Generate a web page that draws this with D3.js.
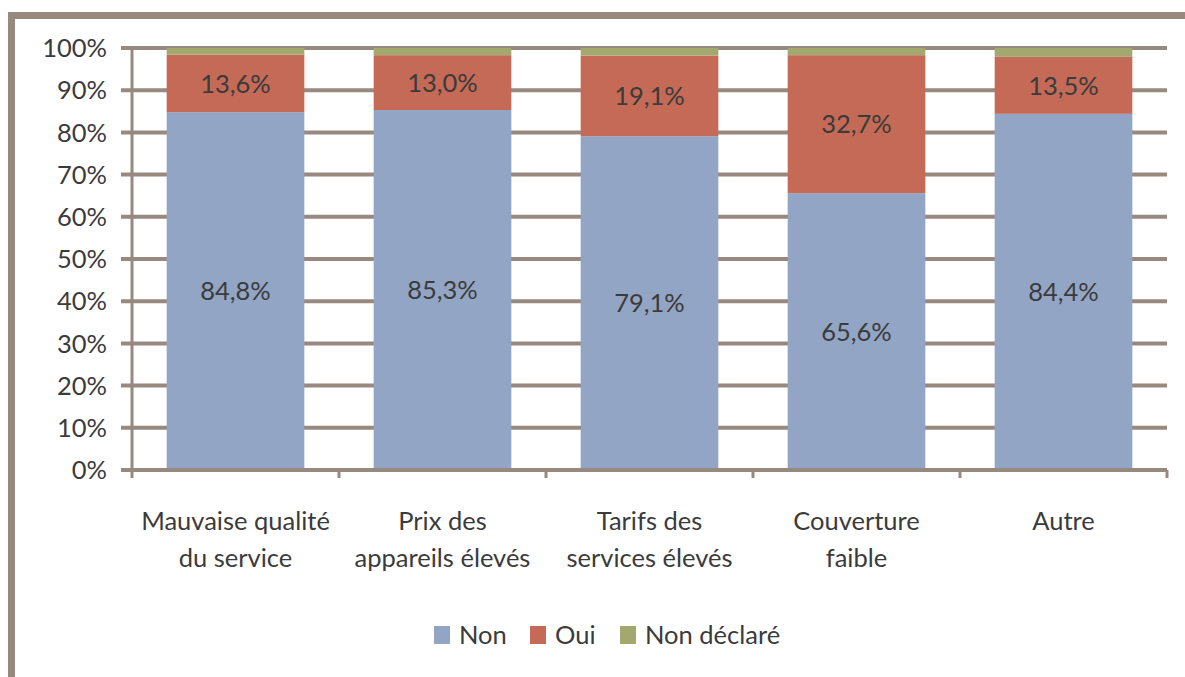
<!DOCTYPE html>
<html><head><meta charset="utf-8">
<script src="https://cdn.jsdelivr.net/npm/d3@7"></script>
<style>body{margin:0;background:#fff}svg{display:block}text{font-family:Lato,"Open Sans",sans-serif;fill:#3b3b3b}</style>
</head><body>
<script>
const categories = [["Mauvaise qualité","du service"],["Prix des","appareils élevés"],["Tarifs des","services élevés"],["Couverture","faible"],["Autre"]];
const seriesNames = ["Non","Oui","Non déclaré"];
const nonValues = [84.8, 85.3, 79.1, 65.6, 84.4];
const ouiValues = [13.6, 13.0, 19.1, 32.7, 13.5];
const ndValues  = [1.6, 1.7, 1.8, 1.7, 2.1];
const yTicks = [0,10,20,30,40,50,60,70,80,90,100];
const colors = ["#93a5c4","#c46a56","#a3a86f"];

const W=1185,H=677;
const svg=d3.select("body").append("svg").attr("width",W).attr("height",H);
const frame="#978880";
// outer frame
svg.append("rect").attr("x",8).attr("y",12).attr("width",W-8).attr("height",7).attr("fill",frame);
svg.append("rect").attr("x",8).attr("y",12).attr("width",7).attr("height",H-12).attr("fill",frame);

const x0=132,x1=1167,yB=470,yT=48;
const x=d3.scaleBand().domain(d3.range(categories.length)).range([x0,x1]).paddingInner(0.335).paddingOuter(0.1675);
const y=d3.scaleLinear().domain([0,100]).range([yB,yT]);

// gridlines
svg.append("g").selectAll("line").data(yTicks).join("line")
  .attr("x1",121).attr("x2",x1).attr("y1",d=>y(d)).attr("y2",d=>y(d))
  .attr("stroke",frame).attr("stroke-width",4);
// y tick labels
svg.append("g").selectAll("text").data(yTicks).join("text")
  .attr("x",107).attr("y",d=>y(d)).attr("dy","0.36em").attr("text-anchor","end")
  .attr("font-size",25.5).text(d=>d+"%");

// stacks
const rows=categories.map((c,i)=>({i,Non:nonValues[i],Oui:ouiValues[i],ND:ndValues[i]}));
const stack=d3.stack().keys(["Non","Oui","ND"])(rows);
stack.forEach((s,k)=>{
  svg.append("g").selectAll("rect").data(s).join("rect")
    .attr("x",d=>x(d.data.i)).attr("width",x.bandwidth())
    .attr("y",d=>y(d[1])).attr("height",d=>y(d[0])-y(d[1]))
    .attr("fill",colors[k]);
});
// data labels
const fmt=v=>v.toFixed(1).replace(".",",")+"%";
stack.slice(0,2).forEach(s=>{
  svg.append("g").selectAll("text").data(s).join("text")
    .attr("x",d=>x(d.data.i)+x.bandwidth()/2).attr("y",d=>y((d[0]+d[1])/2)).attr("dy","0.36em")
    .attr("text-anchor","middle").attr("font-size",25.5).text(d=>fmt(d[1]-d[0]));
});

// axes lines
svg.append("line").attr("x1",121).attr("x2",x1).attr("y1",yB).attr("y2",yB).attr("stroke",frame).attr("stroke-width",4);
svg.append("line").attr("x1",x0).attr("x2",x0).attr("y1",yT-2).attr("y2",478).attr("stroke",frame).attr("stroke-width",3);
const step=x.step();
svg.append("g").selectAll("line").data(d3.range(categories.length)).join("line")
  .attr("x1",d=>x0+step*(d+1)).attr("x2",d=>x0+step*(d+1)).attr("y1",yB).attr("y2",478)
  .attr("stroke",frame).attr("stroke-width",3);

// category labels
categories.forEach((lines,i)=>{
  const t=svg.append("text").attr("text-anchor","middle").attr("font-size",25.5);
  lines.forEach((l,j)=>t.append("tspan").attr("x",x(i)+x.bandwidth()/2).attr("y",530+j*37).text(l));
});

// legend
const legX=[434,530,620];
seriesNames.forEach((n,k)=>{
  svg.append("rect").attr("x",legX[k]).attr("y",626).attr("width",16).attr("height",18).attr("fill",colors[k]);
  svg.append("text").attr("x",legX[k]+25).attr("y",644).attr("font-size",25.5).text(n);
});
</script>
</body></html>
